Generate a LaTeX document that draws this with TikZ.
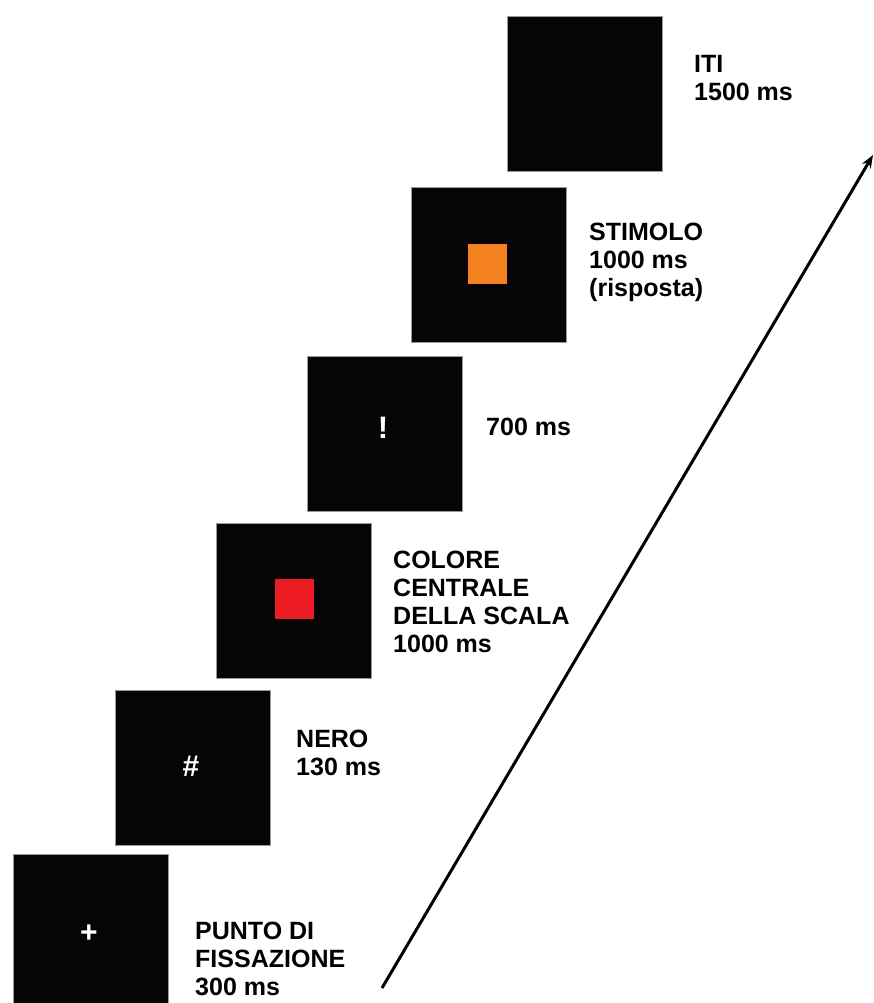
\documentclass[tikz,border=0pt]{standalone}
\usepackage{fontspec}
\setmainfont{Liberation Sans}
\usetikzlibrary{arrows.meta}
\definecolor{screen}{HTML}{050505}
\definecolor{rim}{HTML}{9A9A9A}
\definecolor{stimred}{HTML}{ED1C24}
\definecolor{stimorange}{HTML}{F58220}
\begin{document}
\begin{tikzpicture}[x=1pt,y=-1pt,
  screenbox/.style={fill=screen,draw=rim,line width=0.6pt,minimum width=155pt,minimum height=155pt,inner sep=0pt,anchor=north west},
  patch/.style={inner sep=0pt,minimum width=39pt,minimum height=40pt},
  glyph/.style={text=white,inner sep=0pt},
  lab/.style={anchor=north west,inner sep=0pt,align=left,font=\fontsize{25}{28}\selectfont\bfseries},
  timeline/.style={line width=3pt,-{Stealth[length=13pt,width=10pt]}}]
\useasboundingbox (0,0) rectangle (874,1003);
\begin{scope}
\clip (0,0) rectangle (874,1003);
% screens of one trial, from fixation up to the inter-trial interval
\node[screenbox] (iti)  at (507,16)  {};
\node[screenbox] (stim) at (411,187) {};
\node[screenbox] (cue)  at (307,356) {};
\node[screenbox] (ref)  at (216,523) {};
\node[screenbox] (mask) at (115,690) {};
\node[screenbox] (fix)  at (13,854)  {};
\end{scope}
% contents of the screens
\node[patch,fill=stimorange] (orange) at (487.5,263.5) {};
\node[patch,fill=stimred] (red) at (294,599) {};
\node[glyph,font=\fontsize{31}{31}\selectfont\bfseries] (excl) at (383,428) {!};
\node[glyph,font=\fontsize{30}{30}\selectfont\bfseries] (hash) at (191,766) {\#};
\node[glyph,font=\fontsize{30}{30}\selectfont\bfseries] (plus) at (89,934) {+};
% captions
\node[lab] (tIti)  at (694,55)  {ITI\\1500 ms};
\node[lab] (tStim) at (589,223) {STIMOLO\\1000 ms\\(risposta)};
\node[lab] (tCue)  at (486,418) {700 ms};
\node[lab] (tRef)  at (393,551) {COLORE\\CENTRALE\\DELLA SCALA\\1000 ms};
\node[lab] (tMask) at (296,730) {NERO\\130 ms};
\node[lab] (tFix)  at (195,922) {PUNTO DI\\FISSAZIONE\\300 ms};
% time axis
\coordinate (tstart) at (382,988);
\coordinate (tend) at (873,155);
\draw[timeline] (tstart) -- (tend);
\end{tikzpicture}
\end{document}
